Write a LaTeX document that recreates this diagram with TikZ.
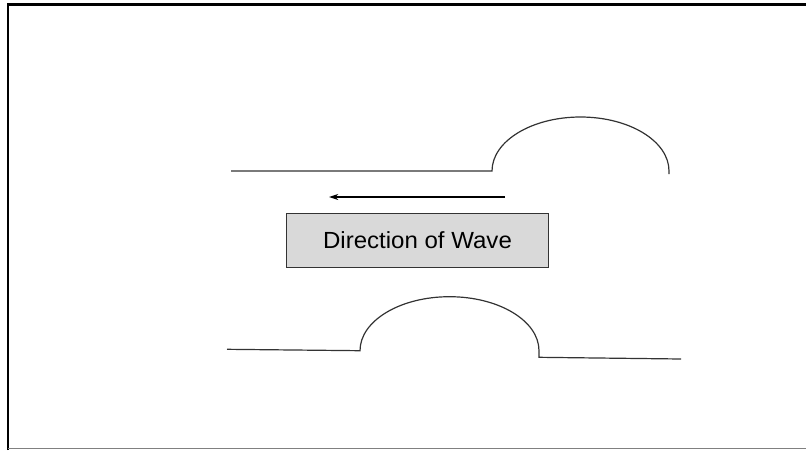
\documentclass[tikz,border=0pt]{standalone}
\usepackage{fontspec}
\setmainfont{Liberation Sans}[FakeStretch=1.03]
\usetikzlibrary{arrows.meta}
\definecolor{boxgray}{HTML}{D9D9D9}
\definecolor{linegray}{HTML}{333333}
\tikzset{
  wave/.style={draw=linegray, line width=0.9pt},
  frameline/.style={draw=black, line width=1.7pt},
  labelbox/.style={draw=linegray, fill=boxgray, line width=0.8pt, minimum width=261.6*0.75pt, minimum height=54*0.75pt, inner sep=0pt, font=\fontsize{17.5}{20}\selectfont},
  dirarrow/.style={draw=black, line width=0.8pt, -{Stealth[length=7pt,width=4.5pt]}}
}
\begin{document}
\begin{tikzpicture}[x=0.75pt,y=-0.75pt]
\useasboundingbox (0,0) rectangle (806,450);
% frame
\draw[frameline] (7.8,450) -- (7.8,4.5) -- (806,4.5);
\draw[draw=gray, line width=1pt] (7.8,448.8) -- (806,448.8);
% top wave
\draw[wave] (231,171) -- (492,171) arc[start angle=180, end angle=360, x radius=88.5, y radius=54] -- (669,174);
% arrow
\coordinate (as) at (505,197);
\coordinate (ae) at (329,197);
\draw[dirarrow] (as) -- (ae);
% box
\node[labelbox] (dir) at (417.5,240.3) {Direction of Wave};
% bottom wave
\draw[wave] (227,349.3) -- (360,350.7) arc[start angle=180, end angle=360, x radius=89.5, y radius=54] -- (539,357.3) -- (681,359);
\end{tikzpicture}
\end{document}
